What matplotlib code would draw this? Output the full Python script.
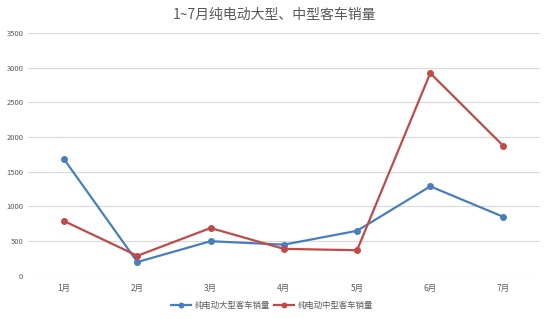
import matplotlib
matplotlib.use("Agg")
import matplotlib.pyplot as plt

plt.rcParams['font.family'] = ['Noto Sans CJK SC', 'DejaVu Sans']

# 月份与销量
months = ['1月', '2月', '3月', '4月', '5月', '6月', '7月']
large_bus = [1680, 200, 500, 450, 650, 1290, 850]
medium_bus = [790, 290, 690, 390, 370, 2920, 1870]

blue = '#4A7EBB'
red = '#BE4B48'
grey = '#595959'

fig = plt.figure(figsize=(5.5, 3.19), dpi=100)
ax = fig.add_axes([0.05, 0.135, 0.932, 0.762])

x = range(len(months))
ax.plot(x, large_bus, color=blue, lw=1.6, marker='o', ms=4, label='纯电动大型客车销量')
ax.plot(x, medium_bus, color=red, lw=1.6, marker='o', ms=4, label='纯电动中型客车销量')

ax.set_xlim(-0.5, len(months) - 0.5)
ax.set_ylim(0, 3500)
ax.set_yticks(range(0, 3501, 500))
ax.set_xticks(list(x))
ax.set_xticklabels(months)
ax.grid(axis='y', color='#D9D9D9', lw=0.8)
ax.set_axisbelow(True)
for s in ax.spines.values():
    s.set_visible(False)
ax.tick_params(length=0, labelsize=6, colors=grey)
ax.tick_params(axis='y', pad=3, labelsize=5.5)
ax.tick_params(axis='x', pad=6)

fig.suptitle('1~7月纯电动大型、中型客车销量', x=0.5, y=0.975, fontsize=10, color=grey)
fig.legend(loc='lower center', bbox_to_anchor=(0.495, 0.005), ncol=2, frameon=False,
           fontsize=6, labelcolor=grey, handlelength=2.4, handletextpad=0.4,
           columnspacing=0.5, markerscale=0.8)

fig.savefig('out.png', dpi=100)
